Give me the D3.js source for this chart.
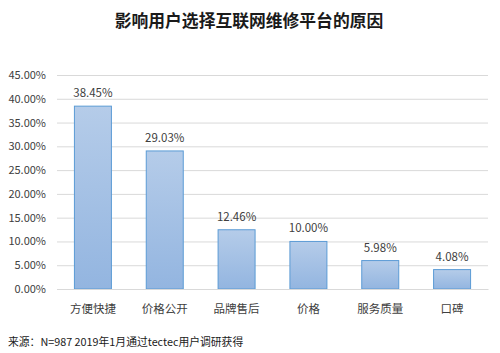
<!DOCTYPE html>
<html><head><meta charset="utf-8">
<script src="https://cdn.jsdelivr.net/npm/d3@7/dist/d3.min.js"></script>
<style>body{margin:0;background:#fff}svg{display:block}text{font-family:"Noto Sans CJK SC","Noto Sans",sans-serif}</style>
</head><body>
<svg id="c" width="500" height="353"></svg>
<script>
const categories = ["方便快捷","价格公开","品牌售后","价格","服务质量","口碑"];
const values = [38.45, 29.03, 12.46, 10.00, 5.98, 4.08];
const tickValues = [0,5,10,15,20,25,30,35,40,45];
const title = "影响用户选择互联网维修平台的原因";
const source = "来源：N=987 2019年1月通过tectec用户调研获得";

const svg = d3.select("#c");
const m = {left:57, right:12, top:75, bottom:64};
const W = 500, H = 353;
const x = d3.scaleBand().domain(categories).range([m.left, W-m.right]).paddingInner(0.485).paddingOuter(0.2425);
const y = d3.scaleLinear().domain([0,45]).range([H-m.bottom, m.top]);

const defs = svg.append("defs");
const g = defs.append("linearGradient").attr("id","bg").attr("x1",0).attr("y1",0).attr("x2",0).attr("y2",1);
g.append("stop").attr("offset","0%").attr("stop-color","#b5cce9");
g.append("stop").attr("offset","100%").attr("stop-color","#93b5e0");

svg.append("text").attr("x",249).attr("y",27).attr("text-anchor","middle")
  .attr("font-size",16.8).attr("font-weight","bold").attr("fill","#1a1a1a").text(title);

const ya = svg.append("g").attr("transform",`translate(${m.left},0)`)
  .call(d3.axisLeft(y).tickValues(tickValues).tickSize(-(W-m.left-m.right)).tickPadding(11).tickFormat(d=>d.toFixed(2)+"%"));
ya.select(".domain").remove();
ya.selectAll("line").attr("stroke","#d9d9d9");
ya.selectAll("text").attr("font-size",11).attr("fill","#404040").attr("font-family","'Open Sans','Noto Sans',sans-serif");

svg.append("g").selectAll("rect").data(values).join("rect")
  .attr("x",(d,i)=>x(categories[i])).attr("width",x.bandwidth())
  .attr("y",d=>y(d)).attr("height",d=>y(0)-y(d))
  .attr("fill","url(#bg)").attr("stroke","#5b9bd5").attr("stroke-width",1);

svg.append("g").selectAll("text").data(values).join("text")
  .attr("x",(d,i)=>x(categories[i])+x.bandwidth()/2).attr("y",d=>y(d)-9)
  .attr("text-anchor","middle").attr("font-size",11.5).attr("fill","#404040")
  .attr("font-family","'Open Sans','Noto Sans',sans-serif")
  .text(d=>d.toFixed(2)+"%");

const xa = svg.append("g").attr("transform",`translate(0,${y(0)})`)
  .call(d3.axisBottom(x).tickSize(0).tickPadding(16));
xa.select(".domain").attr("stroke","#d9d9d9");
xa.selectAll("text").attr("font-size",11.5).attr("fill","#404040");

svg.append("text").attr("x",8).attr("y",346).attr("font-size",10.8).attr("fill","#1a1a1a").text(source);
</script>
</body></html>
